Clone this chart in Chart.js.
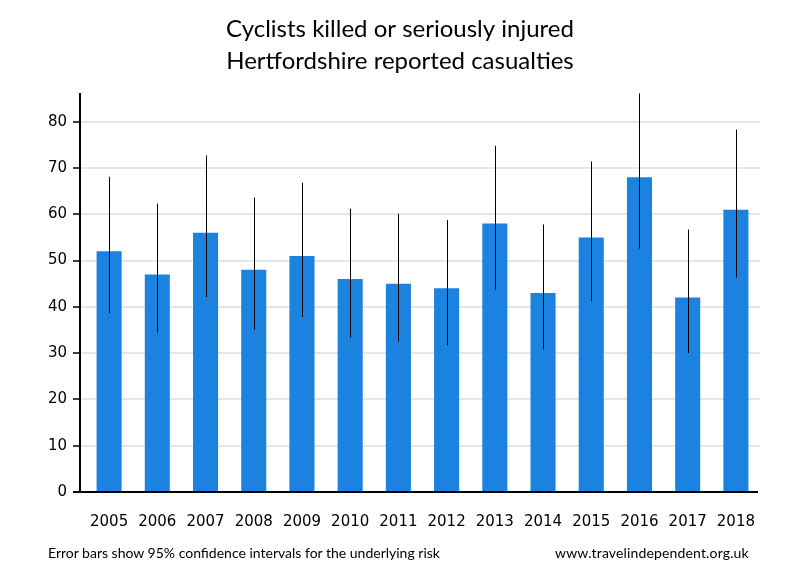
<!DOCTYPE html>
<html><head><meta charset="utf-8">
<script src="https://cdn.jsdelivr.net/npm/chart.js@4/dist/chart.umd.min.js"></script>
<style>
html,body{margin:0;padding:0;background:#fff;}
#wrap{position:relative;width:800px;height:580px;}
canvas{display:block;}
.foot{position:absolute;top:544px;font-family:Lato,"Liberation Sans",sans-serif;font-size:14px;color:#000;white-space:nowrap;line-height:18px;}
</style></head><body>
<div id="wrap"><canvas id="c" width="800" height="580"></canvas>
<div class="foot" id="f1" style="left:48px">Error bars show 95% confidence intervals for the underlying risk</div>
<div class="foot" id="f2" style="left:555px;letter-spacing:0.15px">www.travelindependent.org.uk</div>
</div>
<script>
const titleLines = ["Cyclists killed or seriously injured", "Hertfordshire reported casualties"];
const years = ["2005","2006","2007","2008","2009","2010","2011","2012","2013","2014","2015","2016","2017","2018"];
const casualties = [52, 47, 56, 48, 51, 46, 45, 44, 58, 43, 55, 68, 42, 61];
const ciLow  = [38.7, 34.4, 42.1, 35.1, 37.8, 33.4, 32.5, 31.7, 43.7, 30.8, 41.2, 52.6, 30.0, 46.3];
const ciHigh = [68.1, 62.3, 72.7, 63.6, 66.8, 61.2, 60.1, 58.8, 74.8, 57.8, 71.4, 86.1, 56.7, 78.3];
const yTicks = [0, 10, 20, 30, 40, 50, 60, 70, 80];
const yMax = 86.2;

const BLUE = '#1c82e0';
const GRID = '#e6e6e6';
const AXIS_GAP = 5;

const axesAndErrors = {
  id: 'axesAndErrors',
  afterDatasetsDraw(chart) {
    const ctx = chart.ctx, xs = chart.scales.x, ys = chart.scales.y, a = chart.chartArea;
    const axX = a.left - AXIS_GAP;
    ctx.save();
    ctx.strokeStyle = GRID; ctx.lineWidth = 2;
    yTicks.forEach(v => {
      if (v === 0) return;
      const py = Math.round(ys.getPixelForValue(v));
      ctx.beginPath(); ctx.moveTo(axX, py); ctx.lineTo(a.left, py); ctx.stroke();
    });
    ctx.strokeStyle = '#000'; ctx.lineWidth = 1;
    years.forEach((yr, i) => {
      const px = Math.round(xs.getPixelForValue(i)) + 0.5;
      ctx.beginPath();
      ctx.moveTo(px, ys.getPixelForValue(ciLow[i]));
      ctx.lineTo(px, ys.getPixelForValue(ciHigh[i]));
      ctx.stroke();
    });
    ctx.lineWidth = 2;
    ctx.beginPath(); ctx.moveTo(axX, a.top); ctx.lineTo(axX, a.bottom); ctx.stroke();
    ctx.lineWidth = 1.5;
    yTicks.forEach(v => {
      const py = Math.round(ys.getPixelForValue(v));
      ctx.beginPath(); ctx.moveTo(axX - 7, py); ctx.lineTo(axX, py); ctx.stroke();
    });
    ctx.lineWidth = 2;
    const by = Math.round(a.bottom);
    ctx.beginPath(); ctx.moveTo(axX - 7, by); ctx.lineTo(a.right - 2, by); ctx.stroke();
    ctx.restore();
  }
};

new Chart(document.getElementById('c'), {
  type: 'bar',
  data: {
    labels: years,
    datasets: [{
      data: casualties,
      backgroundColor: BLUE,
      borderWidth: 0,
      barPercentage: 0.52,
      categoryPercentage: 1.0
    }]
  },
  options: {
    responsive: false,
    animation: false,
    devicePixelRatio: 1,
    layout: { padding: { left: 40, right: 40, top: 0, bottom: 0 } },
    plugins: {
      legend: { display: false },
      tooltip: { enabled: false },
      title: {
        display: true,
        text: titleLines,
        color: '#000',
        font: { family: 'Lato, "Liberation Sans", sans-serif', size: 24, weight: 'normal', lineHeight: 1.3333 },
        padding: { top: 13, bottom: 16 }
      }
    },
    scales: {
      x: {
        grid: { display: false, drawTicks: false },
        border: { display: false },
        ticks: { color: '#000', padding: 21, font: { family: '"DejaVu Sans", sans-serif', size: 15 }, maxRotation: 0, autoSkip: false },
        afterFit(s) { s.height = 88; }
      },
      y: {
        min: 0,
        max: yMax,
        afterBuildTicks(s) { s.ticks = yTicks.map(v => ({ value: v })); },
        grid: {
          drawTicks: false,
          lineWidth: 2,
          color: ctx => (ctx.tick && ctx.tick.value === 0) ? 'rgba(0,0,0,0)' : GRID
        },
        border: { display: false },
        ticks: { color: '#000', padding: 18, font: { family: '"DejaVu Sans", sans-serif', size: 15 } },
        afterFit(s) { s.width = 45; }
      }
    }
  },
  plugins: [axesAndErrors]
});
</script>
</body></html>
